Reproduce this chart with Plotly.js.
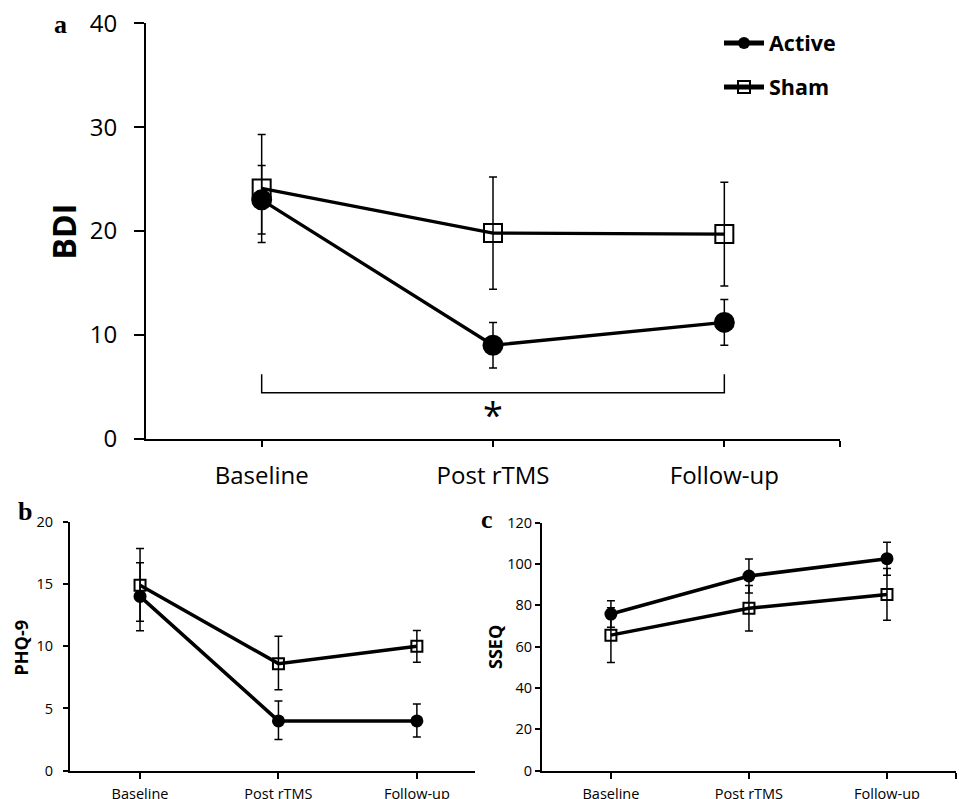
<!DOCTYPE html>
<html>
<head>
<meta charset="utf-8">
<script src="https://cdn.plot.ly/plotly-3.0.1.min.js"></script>
<style>html,body{margin:0;padding:0;background:#fff;}#chart{width:959px;height:799px;}</style>
</head>
<body>
<div id="chart"></div>
<script>
// ---- Data ----
const categories = ['Baseline', 'Post rTMS', 'Follow-up'];
const groupNames = ['Active', 'Sham'];

// Panel a: BDI
const bdiActive = [23.0, 9.0, 11.2];
const bdiActiveErr = [3.3, 2.2, 2.2];
const bdiSham = [24.1, 19.8, 19.7];
const bdiShamErr = [5.2, 5.4, 5.0];

// Panel b: PHQ-9
const phqActive = [14.0, 4.0, 4.0];
const phqActiveErrPlus = [2.7, 1.6, 1.35];
const phqActiveErrMinus = [2.0, 1.5, 1.3];
const phqSham = [14.9, 8.6, 10.0];
const phqShamErrPlus = [2.95, 2.2, 1.27];
const phqShamErrMinus = [3.65, 2.1, 1.29];

// Panel c: SSEQ
const sseqActive = [75.8, 94.2, 102.6];
const sseqActiveErr = [6.4, 8.2, 8.0];
const sseqSham = [65.6, 78.6, 85.3];
const sseqShamErr = [13.2, 11.0, 12.5];

// Significance bracket (panel a): from category index to category index, at BDI value
const sigFrom = 0, sigTo = 2, sigY = 4.43, sigTip = 6.2, sigLabelY = 2.3;

// ---- Build ----
const xIdx = categories.map((_, i) => i);
const FONT = 'Open Sans, Noto Sans, sans-serif';
const BLACK = '#000';

function trace(xa, ya, y, errPlus, errMinus, name, isActive, big, legendId) {
  const t = {
    x: xIdx, y: y, xaxis: xa, yaxis: ya, name: name,
    type: 'scatter', mode: 'lines+markers', cliponaxis: false,
    line: {color: BLACK, width: big ? 3.3 : 3.5},
    marker: isActive
      ? {symbol: 'circle', size: big ? 21 : 13, color: BLACK, line: {width: 0}}
      : {symbol: 'square-open', size: big ? 18 : 11, color: BLACK, line: {width: 2, color: BLACK}},
    error_y: {type: 'data', symmetric: errMinus ? false : true, array: errPlus,
              color: BLACK, thickness: 1.5, width: 4},
    showlegend: !!legendId,
    hoverinfo: 'skip'
  };
  if (errMinus) t.error_y.arrayminus = errMinus;
  if (legendId) t.legend = legendId;
  return t;
}

const data = [
  trace('x', 'y', bdiSham, bdiShamErr, null, groupNames[1], false, true, 'legend2'),
  trace('x', 'y', bdiActive, bdiActiveErr, null, groupNames[0], true, true, 'legend'),
  trace('x2', 'y2', phqSham, phqShamErrPlus, phqShamErrMinus, groupNames[1], false, false, null),
  trace('x2', 'y2', phqActive, phqActiveErrPlus, phqActiveErrMinus, groupNames[0], true, false, null),
  trace('x3', 'y3', sseqSham, sseqShamErr, null, groupNames[1], false, false, null),
  trace('x3', 'y3', sseqActive, sseqActiveErr, null, groupNames[0], true, false, null)
];

const W = 959, H = 799;
const px = v => v / W;
const py = v => 1 - v / H;

function xAxis(anchor, domain, range, tickvals, ticktext, fontSize, standoff, lw) {
  return {
    anchor: anchor,
    domain: domain, range: range, type: 'linear', fixedrange: true,
    tickmode: 'array', tickvals: tickvals, ticktext: ticktext,
    showgrid: false, zeroline: false, showline: true, linecolor: BLACK, linewidth: lw,
    ticks: 'outside', ticklen: 6, tickwidth: lw, tickcolor: BLACK,
    tickfont: {family: FONT, size: fontSize, color: BLACK},
    ticklabelstandoff: standoff
  };
}
function yAxis(anchor, domain, range, dtick, fontSize, ticklen, standoff, lw) {
  return {
    anchor: anchor,
    domain: domain, range: range, tickmode: 'linear', tick0: 0, dtick: dtick, fixedrange: true,
    showgrid: false, zeroline: false, showline: true, linecolor: BLACK, linewidth: lw,
    ticks: 'outside', ticklen: ticklen, tickwidth: lw, tickcolor: BLACK,
    tickfont: {family: FONT, size: fontSize, color: BLACK},
    ticklabelstandoff: standoff
  };
}

const legendCommon = {
  xanchor: 'left', yanchor: 'middle', bgcolor: 'rgba(0,0,0,0)', borderwidth: 0,
  itemsizing: 'constant', itemwidth: 40,
  font: {family: FONT, size: 21.5, color: BLACK, weight: 'bold'}
};

const layout = {
  width: W, height: H,
  margin: {l: 0, r: 0, t: 0, b: 0},
  paper_bgcolor: '#fff', plot_bgcolor: 'rgba(0,0,0,0)',
  showlegend: true,
  legend: Object.assign({x: px(719), y: py(43)}, legendCommon),
  legend2: Object.assign({x: px(719), y: py(87)}, legendCommon),
  xaxis: xAxis('y', [px(146), px(840)], [-0.5, 2.5], xIdx.concat([2.5]), categories.concat(['']), 24, 8, 2),
  yaxis: yAxis('x', [py(438.7), py(23.3)], [0, 40], 10, 24, 10, 12, 2),
  xaxis2: xAxis('y2', [px(70), px(475)], [-0.506, 2.42], xIdx, categories, 14.5, 3, 2),
  yaxis2: yAxis('x2', [py(770.7), py(521.7)], [0, 20], 5, 14.5, 5, 7, 2),
  xaxis3: xAxis('y3', [px(541.9), px(956)], [-0.5, 2.5], xIdx.concat([2.5]), categories.concat(['']), 14.5, 3, 2),
  yaxis3: yAxis('x3', [py(770.7), py(522.7)], [0, 120], 20, 14.5, 5, 0, 2),
  shapes: [
    {type: 'path', xref: 'x', yref: 'y',
     path: `M ${sigFrom} ${sigTip} L ${sigFrom} ${sigY} L ${sigTo} ${sigY} L ${sigTo} ${sigTip}`,
     line: {color: BLACK, width: 1.5}}
  ],
  annotations: [
    {xref: 'x', yref: 'y', x: (sigFrom + sigTo) / 2, y: sigLabelY, text: '*', showarrow: false,
     xanchor: 'center', yanchor: 'middle', font: {family: FONT, size: 36, color: BLACK}},
    {xref: 'paper', yref: 'paper', x: px(63.5), y: py(232), text: 'BDI', textangle: -90, showarrow: false,
     xanchor: 'center', yanchor: 'middle', font: {family: FONT, size: 32, color: BLACK, weight: 'bold'}},
    {xref: 'paper', yref: 'paper', x: px(20.5), y: py(648), text: 'PHQ-9', textangle: -90, showarrow: false,
     xanchor: 'center', yanchor: 'middle', font: {family: FONT, size: 18, color: BLACK, weight: 'bold'}},
    {xref: 'paper', yref: 'paper', x: px(495), y: py(647), text: 'SSEQ', textangle: -90, showarrow: false,
     xanchor: 'center', yanchor: 'middle', font: {family: FONT, size: 18, color: BLACK, weight: 'bold'}},
    {xref: 'paper', yref: 'paper', x: px(60), y: py(24), text: 'a', showarrow: false,
     xanchor: 'center', yanchor: 'middle', font: {family: 'Liberation Serif, Times New Roman, serif', size: 26, color: BLACK, weight: 'bold'}},
    {xref: 'paper', yref: 'paper', x: px(24.5), y: py(511), text: 'b', showarrow: false,
     xanchor: 'center', yanchor: 'middle', font: {family: 'Liberation Serif, Times New Roman, serif', size: 26, color: BLACK, weight: 'bold'}},
    {xref: 'paper', yref: 'paper', x: px(487), y: py(519), text: 'c', showarrow: false,
     xanchor: 'center', yanchor: 'middle', font: {family: 'Liberation Serif, Times New Roman, serif', size: 26, color: BLACK, weight: 'bold'}}
  ]
};

Plotly.newPlot('chart', data, layout, {displayModeBar: false, staticPlot: true});
</script>
</body>
</html>
